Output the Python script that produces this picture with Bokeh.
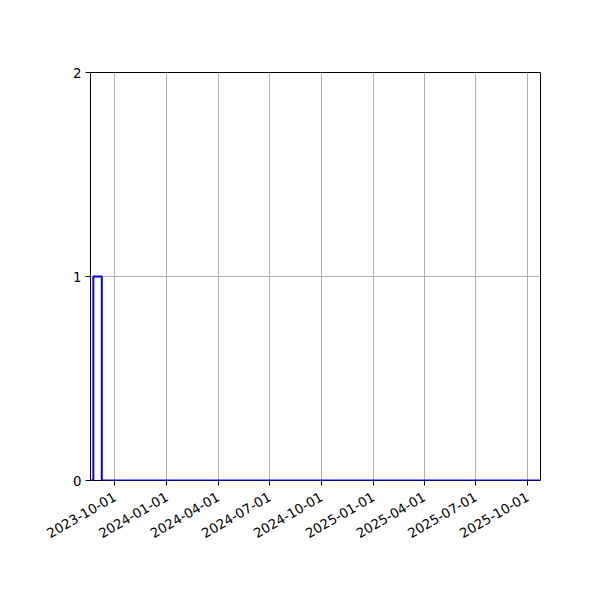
import math
from datetime import datetime
from bokeh.plotting import figure
from bokeh.models import Range1d, FixedTicker, DatetimeTickFormatter
from bokeh.embed import file_html
from bokeh.resources import INLINE

# --- data ---
step_dates = ["2023-08-19", "2023-08-24", "2023-09-08", "2025-10-24"]
step_counts = [0, 1, 0, 0]
x_tick_dates = ["2023-10-01", "2024-01-01", "2024-04-01", "2024-07-01", "2024-10-01",
                "2025-01-01", "2025-04-01", "2025-07-01", "2025-10-01"]
y_ticks = [0, 1, 2]
x_start, x_end = "2023-08-19", "2025-10-24"
y_start, y_end = 0, 2


def to_dt(s):
    return datetime.strptime(s, "%Y-%m-%d")


def to_ms(s):
    return (to_dt(s) - datetime(1970, 1, 1)).total_seconds() * 1000.0


p = figure(
    x_axis_type="datetime",
    frame_width=450, frame_height=408,
    min_border_left=90, min_border_top=72, min_border_right=50, min_border_bottom=100,
    output_backend="svg", toolbar_location=None,
    x_range=Range1d(to_dt(x_start), to_dt(x_end)),
    y_range=Range1d(y_start, y_end),
)
p.background_fill_color = "white"
p.border_fill_color = "white"
p.outline_line_color = "black"
p.outline_line_width = 1
p.outline_line_alpha = 1

p.step([to_dt(d) for d in step_dates], step_counts, mode="after",
       line_color="blue", line_width=2)

fmt = "%Y-%m-%d"
p.xaxis.ticker = FixedTicker(ticks=[to_ms(d) for d in x_tick_dates])
p.xaxis.formatter = DatetimeTickFormatter(
    milliseconds=fmt, seconds=fmt, minsec=fmt, minutes=fmt, hourmin=fmt,
    hours=fmt, days=fmt, months=fmt, years=fmt)
p.yaxis.ticker = FixedTicker(ticks=y_ticks)

for ax in (p.xaxis, p.yaxis):
    ax.axis_line_color = None
    ax.major_tick_out = 5
    ax.major_tick_in = 0
    ax.minor_tick_out = 0
    ax.minor_tick_in = 0
    ax.major_tick_line_color = "black"
    ax.major_label_text_font = "DejaVu Sans"
    ax.major_label_text_font_size = "13.3px"
    ax.major_label_text_color = "black"
    ax.major_label_standoff = 4

p.xaxis.major_label_orientation = math.pi / 6
p.xaxis.major_label_standoff = 10

p.grid.grid_line_color = "#b0b0b0"
p.grid.grid_line_width = 1
p.xgrid.ticker = FixedTicker(ticks=[to_ms(d) for d in x_tick_dates])
p.ygrid.ticker = FixedTicker(ticks=y_ticks)

open("out.html", "w").write(file_html(p, INLINE))
